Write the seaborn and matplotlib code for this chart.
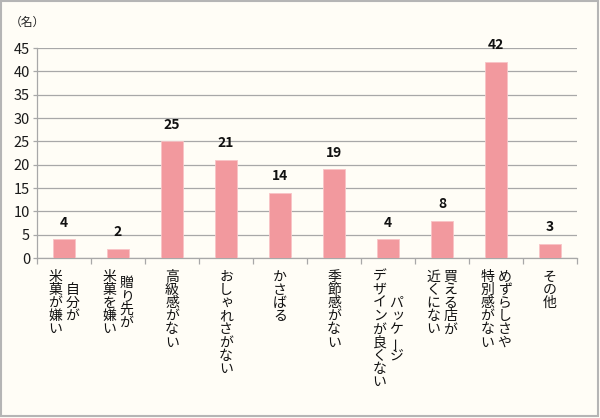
import matplotlib
matplotlib.use("Agg")
import matplotlib.pyplot as plt
import seaborn as sns
import pandas as pd
import numpy as np
from matplotlib.patches import Rectangle

categories = ["自分が\n米菓が嫌い", "贈り先が\n米菓を嫌い", "高級感がない", "おしゃれさがない", "かさばる",
              "季節感がない", "パッケージ\nデザインが良くない", "買える店が\n近くにない", "めずらしさや\n特別感がない", "その他"]
counts = [4, 2, 25, 21, 14, 19, 4, 8, 42, 3]
yticks = [0, 5, 10, 15, 20, 25, 30, 35, 40, 45]
unit_label = "（名）"

sns.set_theme(style="white")
plt.rcParams["font.family"] = ["Noto Sans CJK JP", "DejaVu Sans"]

BG = "#FFFDF6"
BAR = "#F2999E"
GRID = "#A8A8A8"

W, H = 600, 418
fig = plt.figure(figsize=(6.0, 4.18), dpi=100, facecolor=BG)
ax = fig.add_axes([37 / W, 1 - 258 / H, 540 / W, 210 / H])
ax.set_facecolor(BG)

df = pd.DataFrame({"label": categories, "count": counts})
sns.barplot(data=df, x="label", y="count", color=BAR, saturation=1, width=0.39,
            edgecolor="#F8C3C6", linewidth=0.6, ax=ax, zorder=3)

ax.set_xlim(-0.5, len(categories) - 0.5)
ax.set_ylim(0, 45)
ax.set_yticks(yticks)
ax.set_yticklabels([str(v) for v in yticks], fontsize=10.5, color="#1a1a1a")
ax.set_xticks(np.arange(-0.5, len(categories), 1.0))
ax.set_xticklabels([])
ax.set_xlabel("")
ax.set_ylabel("")
ax.yaxis.grid(True, color=GRID, linewidth=0.9, zorder=0)
ax.set_axisbelow(True)
for s in ["top", "right"]:
    ax.spines[s].set_visible(False)
for s in ["left", "bottom"]:
    ax.spines[s].set_color(GRID)
    ax.spines[s].set_linewidth(0.9)
ax.tick_params(axis="y", which="both", left=True, length=3, width=0.9, color=GRID, pad=2)
ax.tick_params(axis="x", which="both", bottom=True, length=4, width=0.9, color=GRID)

# value labels
for i, v in enumerate(counts):
    ax.annotate(str(v), xy=(i, v), xytext=(0, 7), textcoords="offset points",
                ha="center", va="bottom", fontsize=10, fontweight="bold", color="#111111")

# vertical Japanese labels
px = 0.72  # points per pixel
col_pitch = 17.0
char_pitch = 13.2
top_gap = 12.0
small = set("ゃゅょっッャュョァィゥェォぁぃぅぇぉ")
for i, lab in enumerate(categories):
    lines = lab.split("\n")
    n = len(lines)
    maxlen = max(len(l) for l in lines)
    for j, line in enumerate(lines):
        dx = ((n - 1) / 2 - j) * col_pitch
        off = (maxlen - len(line)) * char_pitch / 2
        for k, ch in enumerate(line):
            cy = -(top_gap + off + k * char_pitch + char_pitch / 2)
            ddx, ddy, rot, fs = 0.0, 0.0, 0, 10
            if ch == "ー":
                rot = 90
            if ch in small:
                ddx, ddy, fs = 1.5, 1.0, 9.5
            ax.annotate(ch, xy=(i, 0), xycoords=("data", "axes fraction"),
                        xytext=((dx + ddx) * px, (cy + ddy) * px), textcoords="offset points",
                        ha="center", va="center", fontsize=fs, rotation=rot, color="#111111",
                        annotation_clip=False)

fig.text(27.5 / W, 1 - 22 / H, unit_label, ha="center", va="center", fontsize=8.5, color="#222222")

fig.patches.append(Rectangle((0.5 / W, 2.5 / H), 597.5 / W, 415 / H, transform=fig.transFigure,
                             fill=False, edgecolor="#B5B5B5", linewidth=1.5))

fig.savefig("out.png", dpi=100, facecolor=BG)
